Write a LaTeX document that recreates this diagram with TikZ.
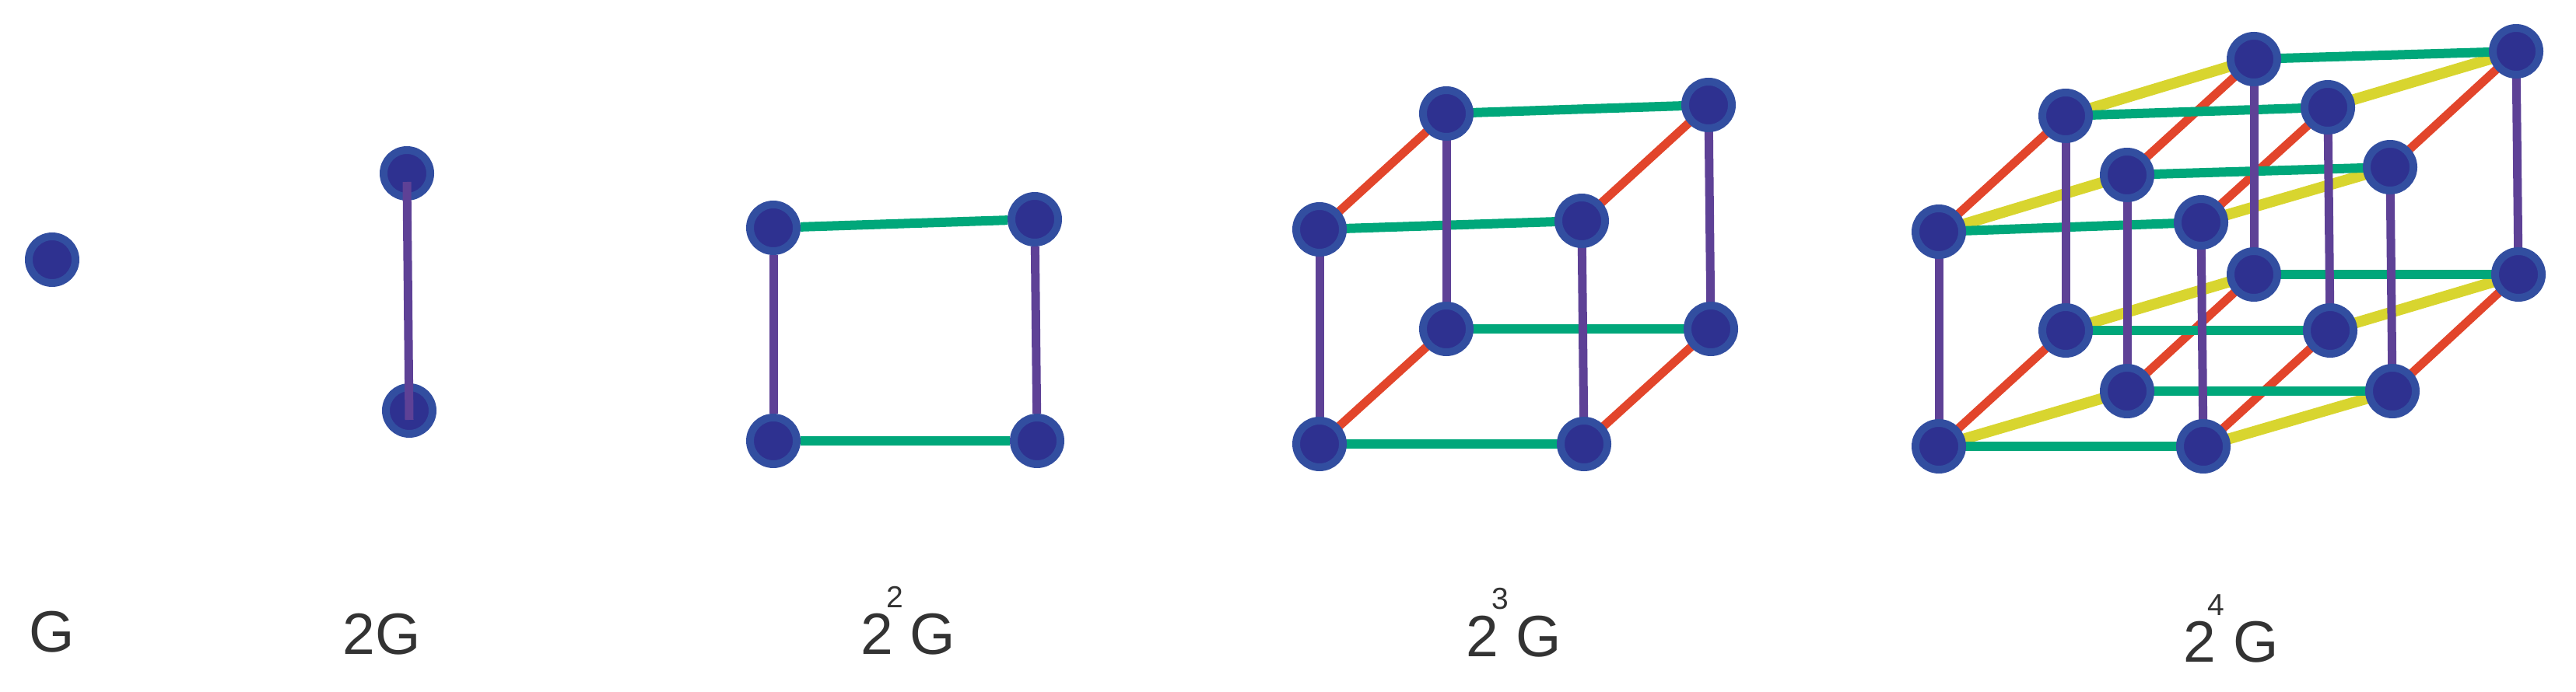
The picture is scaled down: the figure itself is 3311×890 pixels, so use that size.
\documentclass[tikz,border=0pt]{standalone}
\usepackage{fontspec}
\setmainfont{Liberation Sans}
\definecolor{vfill}{HTML}{2E3190}
\definecolor{vring}{HTML}{324EA0}
\definecolor{cpur}{HTML}{5E4196}
\definecolor{cgrn}{HTML}{00A77A}
\definecolor{cred}{HTML}{E2452B}
\definecolor{cyel}{HTML}{D8D52F}
\definecolor{ctxt}{HTML}{333333}
\begin{document}
\begin{tikzpicture}[x=1pt,y=-1pt,
  vert/.style={circle,fill=vfill,draw=vring,line width=10pt,minimum size=60pt,inner sep=0pt},
  pe/.style={cpur,line width=11pt},
  ge/.style={cgrn,line width=12pt},
  re/.style={cred,line width=11pt},
  ye/.style={cyel,line width=14pt},
  big/.style={font=\fontsize{75}{75}\selectfont,text=ctxt,anchor=base,inner sep=0pt},
  sup/.style={font=\fontsize{39}{39}\selectfont,text=ctxt,anchor=base,inner sep=0pt}]
\useasboundingbox (0,0) rectangle (3311,890);
% G
\node[vert] (g0) at (67,334) {};
% 2G
\node[vert] (a0) at (523,223) {};
\node[vert] (a1) at (526,528) {};
\draw[pe] ([yshift=-11pt]a0.center) -- ([yshift=-12pt]a1.center);
% 2^2 G
\node[vert] (b0) at (994,293) {};
\node[vert] (b1) at (1330,282) {};
\node[vert] (b2) at (994,567) {};
\node[vert] (b3) at (1333,567) {};
\begin{scope}[on background layer/.style={}]
\end{scope}
\begin{pgfonlayer}{main}\end{pgfonlayer}
% 3-cube coordinates
\coordinate (c0) at (1696,295); \coordinate (c1) at (2033,284);
\coordinate (c2) at (1859,146); \coordinate (c3) at (2196,135);
\coordinate (c4) at (1696,571); \coordinate (c5) at (2036,571);
\coordinate (c6) at (1859,423); \coordinate (c7) at (2199,423);
% 4-cube coordinates
\coordinate (d0) at (2492,298); \coordinate (d1) at (2829,286);
\coordinate (d2) at (2655,149); \coordinate (d3) at (2992,138);
\coordinate (d4) at (2734,225); \coordinate (d5) at (3072,215);
\coordinate (d6) at (2897,76);  \coordinate (d7) at (3234,66);
\coordinate (e0) at (2492,574); \coordinate (e1) at (2832,574);
\coordinate (e2) at (2655,425); \coordinate (e3) at (2995,425);
\coordinate (e4) at (2734,503); \coordinate (e5) at (3075,503);
\coordinate (e6) at (2897,353); \coordinate (e7) at (3237,353);
% edges 2^2
\draw[ge] (b0) -- (b1); \draw[ge] (b2) -- (b3);
\draw[pe] (b0) -- (b2); \draw[pe] (b1) -- (b3);
% edges 2^3
\draw[ge] (c0) -- (c1); \draw[ge] (c2) -- (c3); \draw[ge] (c4) -- (c5); \draw[ge] (c6) -- (c7);
\draw[re] (c0) -- (c2); \draw[re] (c1) -- (c3); \draw[re] (c4) -- (c6); \draw[re] (c5) -- (c7);
\draw[pe] (c0) -- (c4); \draw[pe] (c1) -- (c5); \draw[pe] (c2) -- (c6); \draw[pe] (c3) -- (c7);
% edges 2^4
\foreach \p in {d,e}{
  \draw[ye] (\p0) -- (\p4); \draw[ye] (\p2) -- (\p6); \draw[ye] (\p1) -- (\p5); \draw[ye] (\p3) -- (\p7);
  \draw[re] (\p0) -- (\p2); \draw[re] (\p4) -- (\p6); \draw[re] (\p1) -- (\p3); \draw[re] (\p5) -- (\p7);
  \draw[ge] (\p0) -- (\p1); \draw[ge] (\p2) -- (\p3); \draw[ge] (\p4) -- (\p5); \draw[ge] (\p6) -- (\p7);
}
\foreach \i in {0,...,7}{\draw[pe] (d\i) -- (e\i);}
% vertices
\foreach \i in {0,...,7}{\node[vert] (cv\i) at (c\i) {};}
\foreach \i in {0,...,7}{\node[vert] (dv\i) at (d\i) {}; \node[vert] (ev\i) at (e\i) {};}
% labels
\node[big] (l1) at (67,838) {G};
\node[big] (l2) at (491,841) {2G};
\node[big] (l3a) at (1127,841) {2}; \node[sup] (l3b) at (1150,781) {2}; \node[big] (l3c) at (1199,841) {G};
\node[big] (l4a) at (1905,844) {2}; \node[sup] (l4b) at (1928,783) {3}; \node[big] (l4c) at (1978,844) {G};
\node[big] (l5a) at (2827,851) {2}; \node[sup] (l5b) at (2848,791) {4}; \node[big] (l5c) at (2900,851) {G};
\end{tikzpicture}
\end{document}
